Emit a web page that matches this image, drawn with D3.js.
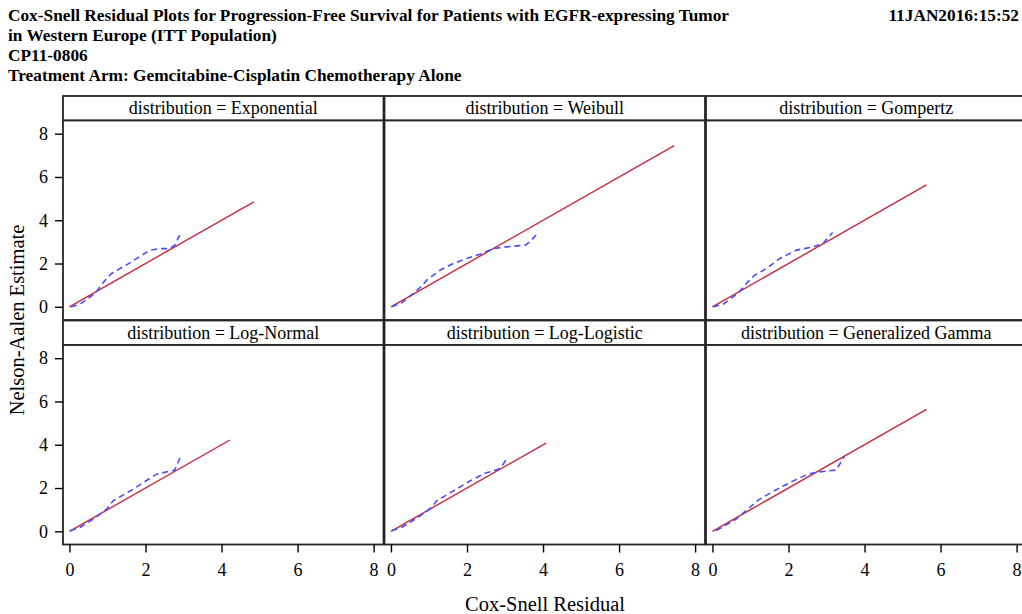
<!DOCTYPE html>
<html>
<head>
<meta charset="utf-8">
<script src="https://cdn.jsdelivr.net/npm/d3@7"></script>
<style>
  html, body { margin: 0; padding: 0; background: #fff; }
  svg { display: block; }
  text { font-family: "Liberation Serif", "Times New Roman", serif; }
</style>
</head>
<body>
<svg id="chart" width="1022" height="614"></svg>
<script>
// ---------- data ----------
const titleLines = [
  "Cox-Snell Residual Plots for Progression-Free Survival for Patients with EGFR-expressing Tumor",
  "in Western Europe (ITT Population)",
  "CP11-0806",
  "Treatment Arm: Gemcitabine-Cisplatin Chemotherapy Alone"
];
const runDate = "11JAN2016:15:52";
const distributions = ["Exponential", "Weibull", "Gompertz", "Log-Normal", "Log-Logistic", "Generalized Gamma"];
const xTicks = [0, 2, 4, 6, 8];
const yTicks = [0, 2, 4, 6, 8];
// reference line (y = x) end points per distribution
const refLineMax = [4.85, 7.45, 5.63, 4.22, 4.08, 5.63];

// Cox-Snell residual (x) and Nelson-Aalen estimate (y) per distribution
const expResid   = [0.04, 0.28, 0.67, 0.94, 1.11, 1.33, 1.59, 1.86, 2.12, 2.38, 2.64, 2.77, 2.92];
const expNA      = [0.00, 0.12, 0.62, 1.23, 1.54, 1.77, 2.03, 2.34, 2.62, 2.69, 2.69, 2.85, 3.39];
const weiResid   = [0.02, 0.28, 0.59, 0.81, 0.94, 1.29, 1.64, 1.99, 2.34, 2.69, 3.04, 3.54, 3.65, 3.87];
const weiNA      = [0.00, 0.18, 0.62, 0.96, 1.23, 1.69, 2.00, 2.23, 2.43, 2.69, 2.77, 2.85, 3.00, 3.42];
const gomResid   = [0.02, 0.28, 0.67, 0.93, 1.11, 1.42, 1.77, 2.21, 2.64, 2.91, 2.98, 3.16];
const gomNA      = [0.00, 0.12, 0.62, 1.15, 1.46, 1.77, 2.23, 2.62, 2.77, 2.92, 3.08, 3.43];
const lnResid    = [0.02, 0.28, 0.67, 0.98, 1.15, 1.64, 1.94, 2.29, 2.77, 2.91];
const lnNA       = [0.03, 0.18, 0.61, 1.03, 1.41, 1.91, 2.25, 2.64, 2.83, 3.40];
const llResid    = [0.02, 0.30, 0.67, 1.07, 1.20, 1.60, 2.03, 2.47, 2.82, 2.95, 3.06];
const llNA       = [0.03, 0.20, 0.60, 1.10, 1.41, 1.82, 2.28, 2.68, 2.87, 3.10, 3.40];
const ggResid    = [0.10, 0.63, 0.93, 1.20, 1.59, 2.07, 2.51, 2.77, 3.25, 3.47];
const ggNA       = [0.03, 0.57, 1.03, 1.44, 1.84, 2.28, 2.64, 2.74, 2.83, 3.45];

const residuals = [expResid, weiResid, gomResid, lnResid, llResid, ggResid];
const naEstimates = [expNA, weiNA, gomNA, lnNA, llNA, ggNA];

// ---------- layout ----------
const svg = d3.select("#chart");
const colLeft = [63, 384.5, 706];
const panelW = 320.5;
const rowTop = [96, 320.5];
const headerH = 24.5;
const plotH = 199.5;
const frameColor = "#262626";
const refColor = "#c42a3c";
const naColor = "#4b4bff";

const x = d3.scaleLinear().domain([-0.17, 8.26]).range([0, panelW]);
const y = d3.scaleLinear().domain([-0.61, 8.61]).range([plotH, 0]);

// titles
const titleG = svg.append("g");
titleLines.forEach((t, i) => {
  titleG.append("text")
    .attr("x", 8).attr("y", 21 + i * 20)
    .attr("font-size", 17.3).attr("font-weight", "bold")
    .attr("fill", "#000")
    .text(t);
});
titleG.append("text")
  .attr("x", 1019).attr("y", 21)
  .attr("text-anchor", "end")
  .attr("font-size", 17.3).attr("font-weight", "bold")
  .text(runDate);

const line = d3.line().x(d => x(d[0])).y(d => y(d[1]));

distributions.forEach((dist, i) => {
  const col = i % 3, row = Math.floor(i / 3);
  const g = svg.append("g")
    .attr("transform", `translate(${colLeft[col]},${rowTop[row]})`);

  // header
  g.append("rect")
    .attr("x", 0).attr("y", 0)
    .attr("width", panelW).attr("height", headerH)
    .attr("fill", "#fff")
    .attr("stroke", frameColor).attr("stroke-width", 1.8);
  g.append("text")
    .attr("x", panelW / 2).attr("y", headerH / 2 + 6)
    .attr("text-anchor", "middle")
    .attr("font-size", 18)
    .text("distribution = " + dist);

  const p = g.append("g").attr("transform", `translate(0,${headerH})`);
  p.append("rect")
    .attr("width", panelW).attr("height", plotH)
    .attr("fill", "#fff")
    .attr("stroke", frameColor).attr("stroke-width", 1.8);

  // reference line
  p.append("path")
    .datum([[0, 0], [refLineMax[i], refLineMax[i]]])
    .attr("d", line)
    .attr("fill", "none")
    .attr("stroke", refColor).attr("stroke-width", 1.4);

  // Nelson-Aalen estimate vs residual
  const pts = residuals[i].map((r, k) => [r, naEstimates[i][k]]);
  p.append("path")
    .datum(pts)
    .attr("d", line)
    .attr("fill", "none")
    .attr("stroke", naColor).attr("stroke-width", 1.6)
    .attr("stroke-dasharray", "6,4");

  // y axis on left column
  if (col === 0) {
    const ya = p.append("g")
      .call(d3.axisLeft(y).tickValues(yTicks).tickSize(8).tickPadding(7).tickFormat(d3.format("d")));
    ya.select(".domain").remove();
    ya.selectAll("line").attr("stroke", "#000").attr("stroke-width", 1.4);
    ya.selectAll("text")
      .attr("font-family", "Liberation Serif, serif")
      .attr("font-size", 18).attr("fill", "#000");
  }
  // x axis on bottom row
  if (row === 1) {
    const xa = p.append("g")
      .attr("transform", `translate(0,${plotH})`)
      .call(d3.axisBottom(x).tickValues(xTicks).tickSize(8).tickPadding(11).tickFormat(d3.format("d")));
    xa.select(".domain").remove();
    xa.selectAll("line").attr("stroke", "#000").attr("stroke-width", 1.4);
    xa.selectAll("text")
      .attr("font-family", "Liberation Serif, serif")
      .attr("font-size", 18).attr("fill", "#000");
  }
});

// axis titles
svg.append("text")
  .attr("transform", "translate(24,320) rotate(-90)")
  .attr("text-anchor", "middle")
  .attr("font-size", 20.5)
  .text("Nelson-Aalen Estimate");
svg.append("text")
  .attr("x", 545).attr("y", 611)
  .attr("text-anchor", "middle")
  .attr("font-size", 20.5)
  .text("Cox-Snell Residual");
</script>
</body>
</html>
